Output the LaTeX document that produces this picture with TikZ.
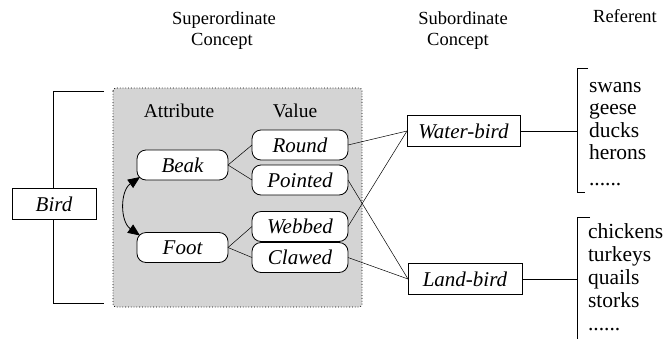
\documentclass[tikz,border=0pt]{standalone}
\usepackage{fontspec}
\setmainfont{Liberation Serif}
\usetikzlibrary{arrows.meta,calc}
\begin{document}
\begin{tikzpicture}[x=1pt,y=-1pt,
  every node/.style={inner sep=0pt, outer sep=0pt},
  concept/.style={draw, fill=white, line width=0.7pt, font=\fontsize{21}{24}\selectfont\itshape, minimum height=31pt},
  valbox/.style={draw, fill=white, rounded corners=9pt, line width=0.8pt, font=\fontsize{21}{24}\selectfont\itshape, minimum width=96pt, minimum height=30pt},
  attbox/.style={valbox, minimum width=91pt},
  link/.style={line width=0.5pt},
  brk/.style={line width=0.8pt},
  hdr/.style={font=\fontsize{18.5}{22}\selectfont, anchor=base},
  inhdr/.style={font=\fontsize{19.5}{22}\selectfont, anchor=base},
  reftext/.style={font=\fontsize{21.5}{24}\selectfont, anchor=base west}
]
\useasboundingbox (0,0) rectangle (666,338);

% headers
\node[hdr] (h1) at (224,24) {Superordinate};
\node[hdr] (h2) at (222,45) {Concept};
\node[hdr] (h3) at (463,24) {Subordinate};
\node[hdr] (h4) at (458,45) {Concept};
\node[hdr] (h5) at (625,22) {Referent};

% bird bracket
\draw[brk] (104,91) -- (53,91) -- (53,303) -- (104,303);
\node[concept, minimum width=84pt] (bird) at (54,204) {Bird};

% shaded panel
\draw[dotted, line width=0.8pt, fill=black!17, rounded corners=3pt] (113,88) rectangle (362,307);
\node[inhdr] (att) at (179,117) {Attribute};
\node[inhdr] (val) at (295,117) {Value};

\node[attbox] (beak) at (182.5,165) {Beak};
\node[attbox] (foot) at (182.5,247.5) {Foot};
\node[valbox] (round) at (300,145) {Round};
\node[valbox] (pointed) at (300,180) {Pointed};
\node[valbox] (webbed) at (300,226.5) {Webbed};
\node[valbox] (clawed) at (300,257.5) {Clawed};

\draw[link] (beak.east) -- (round.west);
\draw[link] (beak.east) -- (pointed.west);
\draw[link] (foot.east) -- (webbed.west);
\draw[link] (foot.east) -- (clawed.west);

\draw[line width=0.8pt, {Triangle[length=12pt,width=10pt]}-{Triangle[length=12pt,width=10pt]}]
  ($(beak.south west)+(3,-3)$) .. controls +(-20,14) and +(-20,-14) .. ($(foot.north west)+(3,3)$);

% subordinate concepts
\node[concept, minimum width=113pt] (water) at (463.5,131) {Water-bird};
\node[concept, minimum width=114pt] (land) at (465,279) {Land-bird};

\draw[link] (round.east) -- (water.west);
\draw[link] (webbed.east) -- (water.west);
\draw[link] (pointed.east) -- (land.west);
\draw[link] (clawed.east) -- (land.west);

% referent brackets
\coordinate (wb) at (577,131);
\coordinate (lb) at (577,279);
\draw[link] (water.east) -- (wb);
\draw[link] (land.east) -- (lb);
\draw[brk] (588,68) -- (577,68) -- (577,192) -- (585,192);
\draw[brk] (590,217) -- (577,217) -- (577,340);

\node[reftext] (r1) at (589,92) {swans};
\node[reftext] (r2) at (589,114.5) {geese};
\node[reftext] (r3) at (589,137) {ducks};
\node[reftext] (r4) at (589,159.5) {herons};
\node[reftext] (r5) at (589,185) {......};
\node[reftext] (r6) at (588,238) {chickens};
\node[reftext] (r7) at (588,261) {turkeys};
\node[reftext] (r8) at (588,284) {quails};
\node[reftext] (r9) at (588,307) {storks};
\node[reftext] (r10) at (588,330) {......};
\end{tikzpicture}
\end{document}
